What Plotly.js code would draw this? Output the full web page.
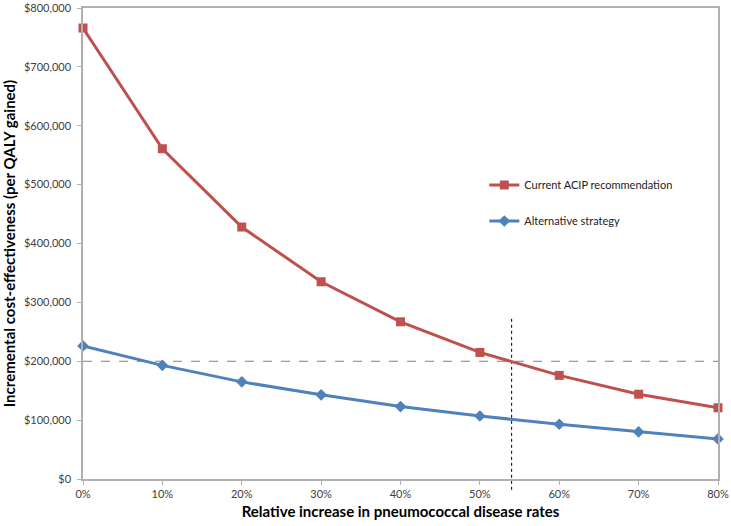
<!DOCTYPE html>
<html>
<head>
<meta charset="utf-8">
<script src="https://cdn.plot.ly/plotly-3.0.1.min.js"></script>
<style>
  html, body { margin: 0; padding: 0; background: #fff; }
  #chart { width: 731px; height: 526px; }
</style>
</head>
<body>
<div id="chart"></div>
<script>
// relative increase in disease rates (%)
var increase = [0, 10, 20, 30, 40, 50, 60, 70, 80];
var increaseLabels = ['0%', '10%', '20%', '30%', '40%', '50%', '60%', '70%', '80%'];
// incremental cost-effectiveness, $ per QALY gained
var currentAcip = [766000, 561000, 428000, 335000, 267000, 215000, 176000, 144000, 121000];
var alternative = [226000, 193000, 165000, 143000, 123000, 107000, 93000, 80000, 68000];
var threshold = 200000;   // willingness-to-pay line
var crossover = 54;       // % where current ACIP meets the threshold
var yTicks = [0, 100000, 200000, 300000, 400000, 500000, 600000, 700000, 800000];

var font = 'Lato, "Open Sans", sans-serif';

var trace1 = {
    x: increase,
    y: currentAcip,
    mode: 'lines+markers',
    type: 'scatter',
    name: 'Current ACIP recommendation',
    legendgroup: 'acip',
    cliponaxis: false,
    line: {color: '#c0504d', width: 3},
    marker: {symbol: 'square', size: 9, color: '#c0504d'}
};
var trace2 = {
    x: increase,
    y: alternative,
    mode: 'lines+markers',
    type: 'scatter',
    name: 'Alternative strategy',
    legendgroup: 'alt',
    cliponaxis: false,
    line: {color: '#4f81bd', width: 3},
    marker: {symbol: 'diamond', size: 9, color: '#4f81bd'}
};

var layout = {
    width: 731,
    height: 526,
    paper_bgcolor: '#fff',
    plot_bgcolor: '#fff',
    font: {family: font, size: 11, color: '#404040'},
    margin: {t: 8, r: 13, l: 83, b: 47},
    showlegend: true,
    legend: {
        x: 0.632, y: 0.655, xanchor: 'left', yanchor: 'top',
        font: {family: font, size: 11, color: '#222'},
        tracegroupgap: 17,
        bgcolor: 'rgba(0,0,0,0)'
    },
    xaxis: {
        range: [0, 80],
        tickmode: 'array',
        tickvals: increase,
        ticktext: increaseLabels,
        showgrid: false,
        zeroline: false,
        showline: true,
        mirror: true,
        linecolor: '#b0b0b0',
        linewidth: 1.5,
        ticks: 'outside',
        ticklen: 4,
        tickcolor: '#b0b0b0',
        ticklabeloverflow: 'allow',
        title: {
            text: 'Relative increase in pneumococcal disease rates',
            font: {family: font, size: 15, color: '#000', weight: 'bold'},
            standoff: 8
        }
    },
    yaxis: {
        range: [0, 800000],
        tickmode: 'array',
        tickvals: yTicks,
        tickformat: '$,.0f',
        showgrid: false,
        zeroline: false,
        showline: true,
        mirror: true,
        linecolor: '#b0b0b0',
        linewidth: 1.5,
        ticks: 'outside',
        ticklen: 4,
        tickcolor: '#b0b0b0',
        ticklabelstandoff: 4,
        ticklabeloverflow: 'allow',
        title: {
            text: 'Incremental cost-effectiveness (per QALY gained)',
            font: {family: font, size: 15, color: '#000', weight: 'bold'},
            standoff: 10
        }
    },
    shapes: [
        {type: 'line', xref: 'x', yref: 'y', x0: 0, x1: 80, y0: threshold, y1: threshold,
         line: {color: '#808080', width: 1, dash: 'dash'}, layer: 'below'},
        {type: 'line', xref: 'x', yref: 'paper', x0: crossover, x1: crossover, y0: -0.023, y1: 0.346,
         line: {color: '#000', width: 1, dash: 'dot'}, layer: 'below'}
    ]
};

Plotly.newPlot('chart', [trace1, trace2], layout, {displayModeBar: false, responsive: false});
</script>
</body>
</html>
